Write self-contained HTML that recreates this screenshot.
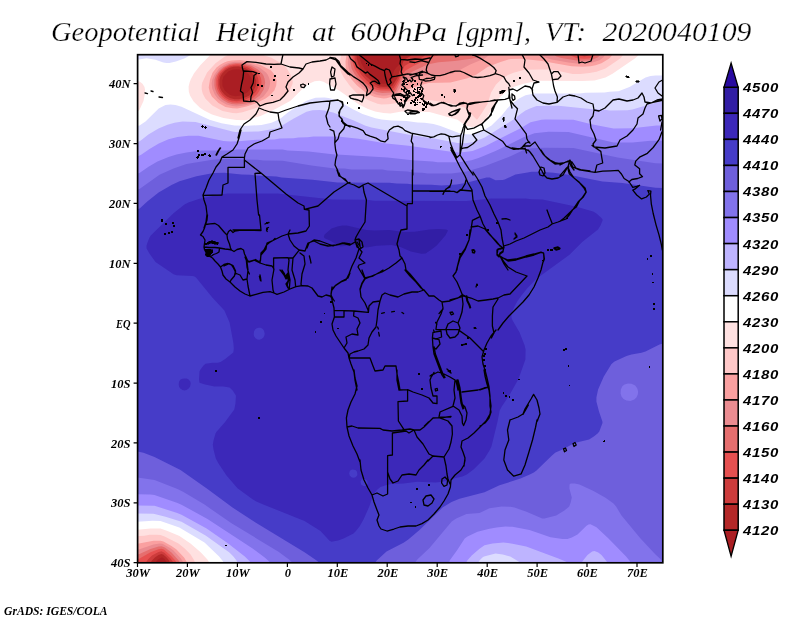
<!DOCTYPE html>
<html><head><meta charset="utf-8"><title>Geopotential Height at 600hPa</title>
<style>
html,body{margin:0;padding:0;background:#fff;}
body{width:800px;height:618px;overflow:hidden;font-family:"Liberation Sans",sans-serif;}
svg{display:block}
.t{font-family:"Liberation Serif",serif;font-style:italic;font-size:27px;fill:#000;stroke:#fff;stroke-width:0.25px}
.ax{font-family:"Liberation Serif",serif;font-style:italic;font-weight:bold;font-size:12.5px;fill:#000}
.cb{font-family:"Liberation Sans",sans-serif;font-style:italic;font-weight:bold;font-size:13.2px;fill:#000;letter-spacing:0.6px}
.gr{font-family:"Liberation Serif",serif;font-style:italic;font-weight:bold;font-size:12.3px;fill:#000}
.coast{fill:none;stroke:#000;stroke-width:1.3;stroke-linejoin:round;stroke-linecap:round}
</style></head><body>
<svg width="800" height="618" viewBox="0 0 800 618">
<rect width="800" height="618" fill="#fff"/>
<defs><clipPath id="fr"><rect x="137.6" y="54.7" width="525.1999999999999" height="508.09999999999997"/></clipPath></defs>

<g style="filter:grayscale(1)">
<text class="t" x="51" y="41" textLength="149" lengthAdjust="spacingAndGlyphs">Geopotential</text>
<text class="t" x="216" y="41" textLength="78" lengthAdjust="spacingAndGlyphs">Height</text>
<text class="t" x="312" y="41" textLength="23" lengthAdjust="spacingAndGlyphs">at</text>
<text class="t" x="350.5" y="41" textLength="96.5" lengthAdjust="spacingAndGlyphs">600hPa</text>
<text class="t" x="455" y="41" textLength="76" lengthAdjust="spacingAndGlyphs">[gpm],</text>
<text class="t" x="545" y="41" textLength="41" lengthAdjust="spacingAndGlyphs">VT:</text>
<text class="t" x="602.5" y="41" textLength="149" lengthAdjust="spacingAndGlyphs">2020040109</text>
</g>
<g clip-path="url(#fr)">
<rect x="130" y="50" width="540" height="520" fill="#aa1e23"/>
<path fill="#b42828" d="M138.5,54.5 359.3,54.5 359.5,57.7 361.5,63.5 364.5,69.1 367.5,72.8 372.5,77.9 377,81.5 381.2,83.5 383.5,83.7 386.6,83.5 389.5,82.6 392.8,78.5 393.3,77.5 393.1,73.5 394.1,70.5 396.3,67.5 398.6,65.5 399.5,63.7 400.4,54.5 663.5,54.5 663.5,563.5 166.6,563.5 166.2,561.5 164.5,558.9 162.5,557.6 161.5,557.5 158,559.5 155.5,562.5 155.5,563.5 137.5,563.5 137.5,54.5ZM233,69.5 228.3,71.5 223.5,76.5 222.3,80.5 222.5,86 224.7,90.5 229.4,94.5 231.8,95.5 235.5,96.2 241.5,95.5 247.3,92.5 250.5,88.8 252.2,83.5 251.5,78.5 248.5,73.9 243.7,70.5 238.5,69.2Z"/>
<path fill="#cd3c3c" d="M138.5,54.5 356.5,54.5 356.7,58.5 358.1,63.5 360.9,69.5 365.5,75.8 375.5,84.6 379.5,86.5 383.5,86.8 390.5,86.5 392.5,85.7 398.2,76.5 399.2,71.5 400.9,68.5 403.5,61.1 405.5,59.1 411.2,55.5 411.2,54.5 663.5,54.5 663.5,563.5 170,563.5 169.1,560.5 166.6,557.5 163.5,554.7 161.5,554.1 158.5,555.1 154.9,557.5 151.5,561.1 150.9,563.5 137.5,563.5 137.5,54.5ZM230.5,67.5 228,68.5 225.1,70.5 222.2,73.5 220.4,76.5 219.5,79.7 219.4,84.5 220.3,88.5 221.9,91.5 224.5,94.6 227.5,96.8 230.5,98.2 234.5,99.2 238.5,99.3 242.4,98.5 248.5,95.9 251.5,93.6 253.2,91.5 256,85.5 256.2,80.5 254.1,75.5 250.8,71.5 245.5,68.2 238.5,66.6 233.5,66.8Z"/>
<path fill="#e65050" d="M138.5,54.5 354.5,54.5 354.7,60.5 357.4,68.5 361.5,74.9 366.5,80.4 372.8,85.5 377.5,88 380.5,88.6 391.5,88.8 393.5,87.9 398,80.5 404.5,66.1 412.1,61.5 422.1,57.5 424.9,55.5 424.9,54.5 580.2,54.5 580.2,55.5 584.5,56.6 588.4,55.5 588.4,54.5 663.5,54.5 663.5,563.5 173,563.5 172.7,561.5 170.5,558.5 164.5,552.8 161.5,551.3 158.5,552.1 152,555.5 147.9,559.5 146.6,561.5 146.2,563.5 137.5,563.5 137.5,54.5ZM233.7,65.5 229.4,66.5 225.5,68.4 220.3,73.5 218.7,76.5 217.8,80.5 217.9,85.5 218.6,88.5 220,91.5 222.5,94.9 225.5,97.7 228.5,99.4 231.5,100.4 236.5,101.2 244.5,100 251.5,96.4 256,91.5 257.6,88.5 258.5,85.5 258.6,81.5 258.2,78.5 256.9,75.5 254.8,72.5 251.5,69.7 247.9,67.5 241.5,65.6Z"/>
<path fill="#e66e6e" d="M138.5,54.5 352.5,54.5 352.7,62.5 354.9,69.5 360.2,77.5 365,82.5 370.5,86.8 375.5,89.4 380.5,90.5 391.5,90.8 393.5,90.6 394.5,89.8 399.1,81.5 401.5,75.9 405.5,70.6 412.5,66.4 424.4,60.5 435.5,56 437.9,55.5 437.9,54.5 570.5,54.5 570.5,55.5 576.5,58.1 583.5,58.7 588.5,58.6 590.5,58.1 595.1,55.5 595.1,54.5 663.5,54.5 663.5,563.5 176.4,563.5 176.4,562.5 175.3,560.5 170.7,555.5 163.9,549.5 161.5,548.7 158.5,549.2 150.5,552.2 140.5,558.1 138.5,559.1 137.5,559.1 137.5,54.5ZM233,64.5 229.5,65.3 224.7,67.5 220.5,71.2 218.6,73.5 217.1,76.5 216.3,79.5 216.3,85.5 217.2,89.5 219.2,93.5 221.7,96.5 224.5,99 228.5,101.3 232.5,102.4 237.5,102.8 242.5,102.3 247.5,100.9 253.5,97.5 256.9,94.5 259,91.5 260.5,88.5 261.4,84.5 261.4,80.5 260.7,77.5 259.1,74.5 256.5,71.3 250.5,67.1 243.5,64.7 237.5,64.1Z"/>
<path fill="#eb8c91" d="M138.5,54.5 350.5,54.5 350.4,62.5 351.6,68.5 354.2,73.5 357.7,78.5 363.5,84.5 370.5,89.8 377.5,92.3 382.5,93.1 394.5,92.3 396.2,90.5 401.5,79.9 403.5,77 412.7,71.5 427.3,64.5 438.5,62.3 454.5,61 471.5,58.7 478.5,57.2 480.8,55.5 480.8,54.5 554.8,54.5 554.8,55.5 556.5,56.5 561.5,58.1 576.5,60.5 582.5,60.8 591.5,60.1 597.6,57.5 599.8,55.5 599.8,54.5 663.5,54.5 663.5,563.5 179.7,563.5 179.7,562.5 178.5,560.2 171.5,552.5 164.9,547.5 161.5,546.2 158.5,546.6 150.5,548.9 139.5,554 137.5,554.4 137.5,54.5ZM232.6,63.5 229.5,64.1 223.5,67 219.5,70.4 215.9,75.5 214.5,79.5 214.4,85.5 214.9,88.5 216.9,93.5 219.5,96.9 222.5,99.8 227.5,102.8 231.5,104 236.5,104.6 242.5,104.1 247.5,102.9 253.1,100.5 259.8,95.5 263.7,89.5 265.2,82.5 264.5,78.5 263.4,75.5 262,73.5 257.9,69.5 251.5,65.8 244.5,63.8 239.5,63.1 235.5,63Z"/>
<path fill="#faa0a0" d="M138.5,54.5 348.7,54.5 347.8,62.5 348.7,68.5 350.5,72.5 354.5,78.8 362,86.5 368.5,91.5 376.5,94.8 382.5,95.7 386.5,95.4 396,93.5 397.7,91.5 403.5,82.5 412,78.5 416.5,77 423.5,75.6 437.5,75.1 452.5,73.7 470.2,64.5 484.5,58.5 488.7,55.5 488.7,54.5 541.3,54.5 541.3,55.5 545,57.5 551.5,59.4 568.5,62.4 576.5,63.4 582.5,63.6 587.5,63.4 592.5,62.5 599.5,60.2 603.2,57.5 604.7,55.5 604.7,54.5 663.5,54.5 663.5,563.5 183.1,563.5 182.7,561.5 180.9,558.5 173.5,550.6 170.5,548.2 162.5,543.7 159.5,543.6 153.5,544.6 139.5,549.2 137.5,549.5 137.5,54.5ZM231,62.5 228.5,63 224.5,64.8 218.9,68.5 214.6,74.5 212.3,79.5 211.7,83.5 212.2,88.5 214.7,94.5 217.7,98.5 221.2,101.5 226.5,104.5 232.5,106 236.5,106.4 245.5,105.2 249.5,104 255.6,101.5 263.5,96.5 268.1,90.5 269.3,87.5 270.1,83.5 270.1,81.5 269,77.5 267.6,74.5 266,72.5 259.5,67.5 250.5,63.9 239.5,61.7 234.5,61.7Z"/>
<path fill="#ffc8c8" d="M138.5,54.5 346.6,54.5 345.5,61.5 345.8,68.5 346.8,71.5 351.6,79.5 357,85.5 366.5,93.3 374.5,97.1 383.5,98.5 386.5,98.2 393.5,96.2 396.5,96.4 398,95.5 400.5,92.5 403.5,90.8 418.5,85.8 428.5,83.1 450.5,82.4 467.5,78.3 476.5,74.4 487.5,67 500.5,62.1 510.5,58.9 520.5,58.7 540.5,60.8 571.5,66.3 582.5,66.8 590.5,66.2 595.5,65.2 601.5,63.3 609.3,58.5 611.9,55.5 611.9,54.5 663.5,54.5 663.5,563.5 186.8,563.5 186.5,561.5 184.1,557.5 176.5,549.5 171.5,545.9 163.5,541.5 160.5,540.7 153.5,540.7 137.5,543.8 137.5,54.5ZM231.6,60.5 227.5,61.3 224.3,62.5 220.5,64.5 216.5,67.5 212.5,72.8 210,79.5 208.7,87.5 209.9,92.5 211.8,96.5 218.5,103 225.5,106.9 232.5,108.3 237.5,108.4 246.5,106.6 255.5,103.4 265.6,98.5 269.7,95.5 274.3,90.5 276.2,85.5 276.7,80.5 273.6,73.5 271.1,70.5 260.5,65 247.5,61.1 239.5,59.9Z"/>
<path fill="#ffe1e1" d="M138.5,54.5 227.3,54.5 227.3,55.5 224.5,56.8 215.5,63.3 207.1,72.5 202.3,82.5 201.7,85.5 201.7,89.5 202.7,93.5 205.3,98.5 212.3,105.5 222.5,110.9 232.5,113.1 236.5,113.3 242.5,112.2 276.5,101.5 284.5,96.7 289.5,90.7 292.5,83.9 292.8,81.5 290.5,74.5 286.5,67.9 284.5,65.5 282.5,64.1 271.5,57.8 264.2,55.5 264.2,54.5 341.2,54.5 339.9,61.5 340.1,69.5 341.1,72.5 343.8,77.5 349.6,85.5 356.5,92.9 360.5,95.9 368.5,100.3 377.5,103.8 381.5,104.4 388.5,104.3 408.5,101.4 421.5,100.2 431.5,100.3 450.5,103.2 464.5,107.6 468,110.5 476.5,119.6 477.5,119.2 481.5,113.6 487.5,104 491.1,92.5 496,84.5 502.5,78.2 508.5,74.7 513.5,72.8 524.5,69.7 540.5,69.4 548.5,69.6 557.5,70.7 572.5,74.1 580.5,74.1 589.5,73.1 596.5,71.8 605.5,68.6 620.2,58.5 622.7,55.5 622.7,54.5 663.5,54.5 663.5,563.5 195.2,563.5 194.3,560.5 190.6,554.5 184.7,548.5 178.5,543.5 164.6,536.5 160.5,535 156.5,534.7 149.5,534.8 144.5,535.7 137.5,536.1 137.5,54.5Z"/>
<path fill="#ffffff" d="M138.5,54.5 209.8,54.5 209.8,55.5 200.5,65 193.9,73.5 190.7,79.5 189.6,82.5 188.6,86.5 188.8,91.5 190,95.5 193.6,101.5 199.7,107.5 204.1,110.5 212,114.5 223.5,118.1 236.5,120.1 245.5,120.3 260.5,115.9 275.5,109.1 290.5,100.8 304.5,86.8 307.5,84.5 314.5,81.2 319.5,80.7 323.5,81.8 339.5,90.7 358.5,104.3 367.5,108.8 375.1,111.5 383.5,113.1 390.5,113.5 401.5,111.6 429.5,111.9 457.5,119.7 465.5,125.4 471.5,127 477.5,126.6 481.1,124.5 487.1,117.5 494.5,104.2 500.5,96.4 508.5,89.6 513.5,86.9 523.5,83.7 537.5,80.8 582.5,81 594.5,80.4 605.5,77.4 612.5,73.7 634.8,58.5 638.3,55.5 638.3,54.5 663.5,54.5 663.5,563.5 209,563.5 208.7,561.5 207.4,559.5 200.9,552.5 190.5,543.5 179.5,535.9 167.5,531 160.5,528.6 150.5,528.4 137.5,529.7 137.5,111 138.5,111 139.5,109.7 143.5,101 144.8,94.5 145,89.5 144.5,86.9 142.5,83.8 139.5,81.5 137.5,81.1 137.5,54.5Z"/>
<path fill="#dcdcff" d="M138.5,54.5 189.8,54.5 189.8,55.5 184.3,58.5 175.8,61.5 169.5,63 166.5,63.1 163.3,62.5 155.5,59.7 146.5,58.3 137.5,59.7 137.5,54.5ZM655.5,75.5 663.5,75.4 663.5,563.5 223.6,563.5 223.1,561.5 219.1,556.5 204.5,542.5 179.3,527.5 160.5,521 152.5,520.7 137.5,521.8 137.5,125.9 139.5,125.5 145.5,121.6 158.7,108.5 165.5,105.1 170.5,104.5 175.5,104.9 181.5,106.8 209.5,119.7 221.5,123.3 234.5,125.5 247.5,125.8 261.5,125 271.5,122.8 276.5,120.6 280.5,118.4 288.5,112.1 306.5,100.7 315.5,97.7 324.5,97.6 328.5,97.9 334.5,99.5 341,102.5 352.5,109.1 362.5,114.1 375.5,118.3 381.5,119.5 391.5,120.5 406.5,120.9 417.5,122.4 424.5,122.7 433.5,123.9 440.5,126 459.5,133.3 464.5,134.3 472.5,134.5 482.5,130.9 491.5,125.5 501.7,115.5 507.5,108.2 512.2,103.5 519.1,98.5 525.5,95.3 534.5,93.6 579.5,93.5 585.5,92.7 604.5,92.5 609.5,91.7 618.5,91.2 629.5,87.1 645.5,77.4 650.5,75.9Z"/>
<path fill="#beb4ff" d="M659.5,101.4 663.5,100.9 663.5,563.5 519.9,563.5 519.9,562.5 518.6,561.5 510.2,556.5 502.8,554.5 495.5,553.6 484,556.5 482.4,557.5 479.5,560.5 478.2,562.5 478.2,563.5 237.6,563.5 237.6,562.5 236.5,560.5 233.4,556.5 229.4,552.5 205.6,535.5 181.5,521.8 165.5,516.7 153.5,513.7 137.5,513.5 137.5,141.8 138.5,141.8 140.8,140.5 148.4,134.5 158.5,128.5 167.5,124.8 174.5,122.7 182.5,121.6 195.5,122 232.5,131.6 235.5,131.9 258.5,131.5 277.5,128.3 293.8,118.5 306.5,111.8 312.5,110.3 319.5,110.1 324.5,110.4 333.1,112.5 353.8,120.5 365.5,125.8 371.5,127.4 411.5,135.2 435.5,138.7 457.5,143.1 465.5,143.3 473.5,141.9 484.8,137.5 513.5,119.6 520.5,114 525.5,110.6 530.5,108.2 536.5,106 558.5,105.7 592.5,109.3 603.5,109.6 609.5,110.4 627.5,110.3 632.4,109.5Z"/>
<path fill="#a08cff" d="M545.5,119.5 573.5,119.8 591.5,124.3 613.5,128.5 632.5,128.2 656.5,125.5 663.5,125.4 663.5,563.5 607.2,563.5 606.7,561.5 601.5,555 598.3,552.5 594.5,550.9 592.1,551.5 587.5,554.9 582.3,561.5 581.9,563.5 567.9,563.5 567.9,562.5 558.4,558.5 526.2,546.5 512.5,543.7 503.5,542.5 492.5,543.5 484.5,545.2 479.5,548.7 471.7,555.5 467.3,560.5 466.5,562.1 466.4,563.5 250.6,563.5 250.6,562.5 249.9,561.5 244.8,556.5 227.5,543 206.6,528.5 181.5,514.7 176.5,512.7 154.5,505.8 137.5,505.4 137.5,155.9 138.5,155.9 141.5,154.5 149.5,148.9 158.8,143.5 168.5,139.3 177.5,136.9 188.5,135.7 198.5,135.8 223.5,141.1 230.5,141.4 238.5,141.3 256.5,139.7 274.5,139.4 279.5,138.6 293.5,138.2 298.5,137.4 307.5,137.2 313.5,136.4 337.5,136.5 358.5,138.8 386.5,143.4 408.5,145.8 449.5,151.4 458.5,152.4 462.5,152.3 472.5,150.9 485.5,145.9 520.2,128.5 530.5,122.2 541.5,119.7Z"/>
<path fill="#8273eb" d="M541.5,132.5 548.5,131.7 568.5,131.9 613.5,142.6 632.5,142.5 650.5,140.8 663.5,140.7 663.5,563.5 630.7,563.5 630.1,561.5 626.1,556.5 608.5,538.4 596.5,527.3 590.5,524.3 588.5,524.5 586.5,525.8 577.5,534.5 571.8,537.5 567.5,539.1 562.5,539 550.5,537.2 529.5,530 512.5,526.7 505.5,526.6 496.5,527.6 489.5,528.7 477.5,531.8 467.5,536.5 464.7,538.5 457.6,549.5 449.7,560.5 448.8,563.5 270,563.5 270,562.5 269.2,561.5 264.7,557.5 252.6,548.5 207.5,519 181.5,504.7 177.5,502.9 154.5,494.9 150.5,494.5 137.5,494.3 137.5,173.5 139.5,173 148.5,166.8 157.5,161.5 168.5,156.9 176.5,154.6 186.5,152.6 201.5,150.5 228.5,150.4 236.5,149.6 282.5,149.6 287.5,150.4 308.5,151.6 332.5,154.3 387.5,157.5 412.5,160.3 432.5,161.6 437.5,162.3 458.5,162.3 471.5,160.2 478.5,158 495.5,151 523.5,137.3 534.5,133.2Z"/>
<path fill="#6e5fdc" d="M531.5,148.3 544.5,147.8 573.5,148.1 617.5,157.5 655.5,163.3 663.5,163.5 663.5,561 662.5,561 655.5,554.5 640.5,538.4 621.5,515.6 616.1,506.5 613.5,503.6 605.5,497.8 593.5,491.1 579.5,484.6 574.7,483.5 570.7,483.5 569.5,484.5 569.4,488.5 571.8,497.5 570.7,502.5 569.2,506.5 564.4,510.5 556.2,515.5 544.5,518.4 542.2,518.5 526.5,511.7 514.5,507.6 510.5,506.7 501.5,506.6 489.5,508.2 479.5,513 466.5,514.1 456.2,518.5 451.7,521.5 429.5,548.1 417.3,559.5 415.1,562.5 415.1,563.5 292.3,563.5 292.3,562.5 289,559.5 278.5,551.7 231.5,523.3 204.5,504.6 183.5,492 177.5,488.9 154.5,479.9 137.5,477.6 137.5,189.6 139.5,189 159.5,174.7 173.5,168.5 186.5,164 212.5,159.8 223.5,158.9 235.5,158.8 242.5,159.6 257.5,159.8 263.5,160.6 282.5,160.8 311.5,165.4 334.5,168.4 344.5,168.6 351.5,169.4 382.5,169.6 387.5,170.4 407.5,171.6 412.5,172.4 422.5,172.7 427.5,173.4 451.5,173.4 466.5,171.4 484.5,166.3 510.5,156.2 522.6,150.5ZM628,383.5 624.6,384.5 622.5,386.1 620.8,389.5 620.6,393.5 621.5,396.6 623.5,399 626.5,400.6 630.5,400.9 634.3,399.5 636.4,397.5 637.8,394.5 638.1,391.5 637.3,388.5 635.2,385.5 631.5,383.7Z"/>
<path fill="#463cc8" d="M527.5,172.4 531.5,171.8 540.5,171.7 553.5,172.8 568.5,174.8 602.5,181.4 622.5,183.1 655.5,187.8 663.5,188 663.5,343.4 659.5,344.5 645.5,351.6 641.5,352.7 631.5,354.4 626.5,356 614.5,361.5 611.5,363.9 603.8,376.5 598.1,389.5 596.4,397.5 596.4,401.5 599,411.5 602.4,421.5 602.5,423.1 599.3,431.5 597.6,433.5 593.8,436.5 589.1,439.5 574.5,443 562.5,449.6 555.5,452.6 552.5,454.9 536.5,470.5 533.8,472.5 529.8,474.5 520.5,478.6 499.5,485.3 484.5,492.2 459.5,498.7 451.5,502 442.5,507.6 419.5,530.1 408.3,539.5 403.5,542.7 386.5,551.4 376.7,560.5 375.2,562.5 375.2,563.5 319,563.5 319,562.5 316.6,560.5 304.9,552.5 255.5,522.6 232.5,507.5 207.5,489 180.5,470 154.5,456.9 143.5,452.8 137.5,451.6 137.5,209.2 138.5,209.2 140.5,207.7 147.3,201.5 158.6,192.5 171.5,184.9 179.5,181.3 196.5,176.2 213.5,172.9 224.5,172.8 241.5,174.5 250.5,174.7 255.5,175.4 276.5,176.6 281.5,177.4 312.5,179.7 337.5,182.5 389.5,182.8 396.5,183.6 407.5,183.8 412.5,184.5 431.5,184.7 441.5,185.6 456.5,184.4 462.5,183.4 471.5,181.5 486.5,177.4 489.8,177.5 495.5,180.3 502.5,180.1 504.7,179.5 515.5,174.4Z"/>
<path fill="#3c28b9" d="M227.5,193.5 277.5,193.4 332.5,199.6 366.5,199.8 374.5,200.7 466.5,200.9 491.5,198.4 525.5,198.5 531.5,199.3 542.5,199.5 575.6,206.5 593.2,211.5 596.5,213.5 600.9,217.5 602.5,219.3 602.6,220.5 600.5,225.6 598,229.5 582.5,241.7 569.5,254.8 536.8,278.5 527.9,287.5 521.5,295.5 517.5,301.1 514.5,306.5 511.5,313.5 511.5,317.8 512.6,320.5 519.6,332.5 524.5,344.9 525.6,349.5 525.4,359.5 518.5,379 509.5,394.9 501.8,406.5 499.7,410.5 497.5,421.7 491.5,446.3 489.5,450.6 484.5,458.5 473.5,469.5 466.8,474.5 462.4,476.5 452.5,478.7 448.4,480.5 442.5,481.8 435.7,482.5 417.5,481.7 403.5,483.6 391.5,484 386.5,485 380.5,487.1 377.4,489.5 373.3,494.5 369.5,506.1 363.5,519.6 359.5,526.4 355.5,531.5 353.5,533.5 343.6,538.5 338.2,540.5 331.5,541.8 329.5,540.8 320.5,531 304.5,520.9 263.3,504.5 256.3,501.5 252.9,499.5 237.5,488.2 226.5,475.4 218.5,463.5 215.8,458.5 213.5,449.6 212.8,444.5 213.5,440.5 215.5,433.5 216.5,431.8 224.7,422.5 234.3,409.5 235.5,403.2 235.9,395.5 232.5,390.2 229.5,387.5 223.5,386.5 214.5,386.4 205.1,384.5 199.5,382.8 199,379.5 199.5,371.6 200.5,369.5 203.5,365.6 205.5,363.8 212.5,362.7 217.5,362.8 220.5,362 225.5,358.8 233.3,352.5 233.8,348.5 233.3,342.5 229.6,322.5 224.4,310.5 212.3,297.5 196,277.5 194.5,276.5 192.5,276.1 176.5,275.2 173.5,274.3 155.5,261.9 149.4,253.5 146.6,248.5 146.5,245.8 147.5,242.5 149.5,237.4 150.8,235.5 173.5,213.3 184.5,204.5 188.4,202.5 199.5,198.8 220.3,194.5ZM256.2,328.5 255.1,329.5 254,331.5 253.7,334.5 254.2,336.5 255.5,338.3 257.5,339.5 259.5,339.8 261.5,339.1 263.4,337.5 264.4,335.5 264.7,333.5 263.9,330.5 262.5,328.7 260.5,327.8 258.5,327.7ZM352.2,469.5 350.5,470.3 349.6,471.5 349.2,473.5 349.7,475.5 351.5,477.2 353.5,477.7 355.5,477.3 357.2,475.5 357.4,474.5 356.9,471.5 355.5,470ZM361.7,479.5 360.5,481.5 361.1,484.5 363.5,486.1 365.5,486 366.5,485.4 367.7,483.5 367.1,480.5 364.5,478.9ZM184.5,378.4 186.5,378.6 188.6,379.5 190.3,381.5 190.7,383.5 190.1,386.5 188.7,388.5 186.5,390 184.5,390.5 182.5,390.1 180.2,388.5 179,386.5 178.7,384.5 179.1,381.5 180.5,379.6 182.5,378.7Z"/>
<path fill="#321ea5" d="M342.5,225.5 346.5,225.6 366.5,229.9 374.5,230.4 389.5,230.1 403.5,232 414.5,231.8 429.5,229.5 438.5,228.9 446.1,229.5 448,230.5 445.4,235.5 436.7,245.5 431.5,249.6 425.6,253.5 421.5,253.7 410.8,251.5 400.5,247 391.5,245.1 376.5,245.7 366.5,247.5 364.5,247.3 358.5,245 355.5,244.4 340.5,246.5 338,245.5 330.5,240.8 325.1,238.5 324.1,237.5 323.9,236.5 324.6,234.5 331.5,228.5 337.5,226.5Z"/>
<path class="coast" d="M241.0,130.0 239.0,138.0 237.0,144.0 233.0,150.0 227.0,154.0 222.0,157.0 220.0,162.0 216.0,167.0 213.0,173.0 209.0,180.0 206.0,188.0 203.0,195.0 204.0,200.0 206.0,206.0 207.0,214.0 206.0,222.0 204.0,228.0M222.0,157.4 244.4,157.4 244.4,167.4 228.0,167.4 228.0,183.0 223.0,185.0 222.0,195.0 203.0,195.4M244.4,160.0 261.0,173.0 286.0,194.0 298.0,203.0 304.0,206.0 304.4,209.4 318.0,206.0 334.0,192.0 348.0,183.0 350.0,182.4M261.0,173.0 255.0,173.4 257.0,200.0 258.6,215.0M304.4,209.4 309.0,210.0 309.4,226.0 306.0,231.0 298.0,233.0 288.0,234.0M339.0,173.0 340.0,176.0 348.0,182.4M216.0,155.0 218.0,151.0 220.0,148.0M216.6,155.0 218.6,151.0 220.6,148.0M283.0,54.4 282.0,59.0 281.0,64.0 274.0,64.4 266.0,64.0 256.0,62.4 247.0,61.6 242.0,65.0 242.4,68.0 243.6,72.0 243.0,78.0 241.6,84.0 240.4,91.0 243.0,93.0 243.6,101.0 250.0,101.6 254.4,101.0 257.0,102.4 260.0,106.0 266.0,103.6 273.0,102.4 280.0,100.0 284.0,96.0 288.0,91.0 286.0,87.0 288.0,82.0 293.0,77.0 299.0,73.0 303.0,69.0 306.0,64.0 312.0,62.0 320.0,61.0 326.0,60.0 330.0,58.0 336.0,60.0 341.0,67.0 348.0,74.0 350.0,75.0M281.0,64.0 290.0,67.0 299.0,68.0 303.0,69.0M244.0,71.0 253.0,71.6 257.0,73.2 254.0,75.6 253.2,83.0 251.0,87.6 252.6,92.4 251.0,96.4 250.6,101.2M332.0,67.0 335.0,69.0 334.0,76.0 331.6,77.0 330.6,72.0 332.0,67.0M330.0,79.0 335.0,78.0 336.0,84.0 334.4,90.0 330.6,90.0 329.6,84.0 330.0,79.0M300.6,85.0 303.0,84.0 305.6,85.4 304.0,87.6 301.2,87.2 300.6,85.0M259.0,108.0 256.0,114.0 250.0,120.0 244.0,124.0 240.0,130.0 238.0,138.0M259.0,108.0 264.0,110.0 270.0,112.0 278.0,113.0 286.0,110.0 298.0,106.0 310.0,103.0 322.0,101.6 330.0,101.0 338.0,100.0 342.0,102.4 343.0,106.0 340.0,110.0 339.0,116.0 342.0,119.0 343.0,122.0 348.0,126.0 350.0,127.0M278.0,113.0 279.0,120.0 282.0,128.0 276.0,130.0 270.0,132.0 269.0,137.0 262.0,141.0 254.0,144.0 248.0,148.0 245.0,154.0 244.4,158.0M330.0,101.0 329.0,108.0 326.0,116.0 328.0,124.0 330.0,127.0M330.0,57.5 335.0,58.1 338.8,61.2 340.6,65.6 345.0,69.4 348.8,73.1 353.8,76.9 358.8,80.0 363.1,83.1 366.2,86.9 367.5,90.0 366.2,95.6 370.0,93.1 373.1,88.8 372.5,85.6 370.2,83.1 372.5,81.5 375.0,81.2 377.5,83.1 379.8,83.8 378.1,80.6 374.4,77.5 370.0,74.4 367.5,71.9 365.6,73.1 361.2,70.0 356.9,66.9 355.0,62.5 350.6,58.8 348.8,55.0M349.4,96.2 353.1,94.8 358.8,95.0 363.8,94.8 363.5,98.1 361.9,101.9 358.1,100.0 353.8,99.0 350.6,98.1 349.4,96.2M359.4,55.0 362.5,57.5 366.2,60.6 370.0,63.8 375.0,66.2 380.0,68.8 384.4,70.6 385.0,75.0 386.2,80.0 387.5,84.4 390.0,87.5 391.9,90.6 393.8,93.1 392.5,95.6 394.4,96.2 396.2,100.0 398.1,103.8 400.0,105.0 401.2,102.5 403.1,105.6 405.0,103.8 404.4,100.6 406.9,99.4 405.0,96.9 408.1,98.1 410.0,96.2 406.9,93.8 403.8,91.2 405.0,87.5 401.9,85.0 403.8,82.5 405.0,79.4 403.1,76.9 406.2,78.1 408.1,81.2 410.0,80.0 411.2,81.9 413.1,80.0 411.2,77.5 416.2,75.6 422.5,75.0M392.5,95.6 398.1,95.0 401.2,95.6 405.0,96.9M384.4,70.6 386.2,68.8 389.4,70.0 390.6,73.1 391.9,76.9 390.0,79.4 391.2,82.5 388.8,85.0 387.8,84.8M399.4,55.0 400.6,59.4 400.0,63.8 401.9,67.5 401.2,71.9 402.5,75.0M391.9,76.9 396.2,76.2 402.5,75.0 407.5,73.8 412.5,74.4 417.5,73.1 422.5,71.2M400.6,59.4 407.5,60.0 415.0,59.0 422.5,59.5 430.0,57.8M405.6,88.8 410.0,92.5 412.5,95.6M405.0,111.2 407.5,110.0 412.5,110.6 417.5,111.2 419.4,112.5 416.2,113.1 411.2,113.1 406.9,113.1 405.0,111.2M433.1,55.0 430.6,58.8 428.8,62.5 426.9,66.2 426.2,70.0 427.5,73.1 431.2,75.0 435.0,75.6 440.0,75.6 445.0,74.4 450.0,72.5 455.0,71.2 460.0,71.2 463.8,72.5 467.5,74.4 472.5,76.9 477.5,77.5 483.8,76.9 490.0,75.6 495.0,73.8 496.2,70.6 493.8,67.5 490.0,64.4 485.0,61.2 480.0,58.1 475.0,55.6 472.5,55.0M455.0,55.0 455.6,56.9 458.1,56.2 458.8,55.0M427.5,73.1 423.8,71.9 420.0,73.1 418.8,75.6 419.4,79.4M410.0,61.9 415.0,62.5 421.2,60.6 428.8,62.5M410.0,75.0 415.0,73.8 418.8,75.6M419.4,79.4 422.5,80.0 426.2,78.5 431.2,78.1 435.0,76.9 434.4,79.4 430.0,80.6 425.6,81.2 422.5,80.0M421.9,81.9 420.6,85.6 423.1,88.8 421.2,92.5 423.8,95.6 422.5,99.4 425.6,101.9 428.8,103.8 431.9,105.6 435.6,105.0 439.4,103.1 443.8,102.5 447.5,104.4 452.5,105.6 456.2,106.0 460.0,103.1 463.8,102.5 466.9,103.8 468.1,104.4 466.9,108.8 468.5,112.5 469.4,115.0 468.1,118.1 465.6,121.9 463.8,125.0M468.1,104.4 470.0,104.4 475.0,103.1 482.5,101.9 490.0,101.2 497.5,100.0 505.0,99.4 510.0,97.5M448.8,113.8 451.9,111.9 456.2,110.0 460.0,108.8 458.1,111.2 455.0,113.8 451.9,115.6 449.4,115.0 448.8,113.8M496.2,73.8 500.0,75.0 503.8,76.9 506.2,81.2 508.8,83.8 510.0,86.2M508.8,87.5 509.4,92.5 508.8,97.5 510.0,99.4M497.5,100.4 491.9,108.8 491.2,115.0 485.0,120.6 481.2,125.0M410.0,111.9 415.0,111.2 418.8,112.5 415.0,113.8 410.0,113.8M337.5,100.0 342.5,101.9 343.1,105.0 340.6,108.8 338.8,112.5 339.4,116.2 341.9,119.4 342.5,122.5 345.0,125.0 351.2,126.2 357.5,128.1 363.1,130.6 365.6,134.4 370.0,136.2 376.2,138.1 381.2,141.2 385.0,141.9 388.1,138.8 387.5,133.8 389.4,130.0 393.8,126.9 398.1,126.2 402.5,128.1 405.0,130.6 411.2,133.1 417.5,134.4 423.8,135.6 430.0,136.9M345.0,125.0 343.8,128.8 339.4,133.8 338.1,138.8 335.0,142.5M330.0,129.4 333.8,131.2 335.0,137.5 334.8,143.1 335.6,150.0 336.9,155.0 335.6,160.0 335.0,165.0 337.5,170.0 338.8,175.0M412.5,133.8 411.2,141.2 412.8,143.8 412.8,175.0M430.0,103.1 433.8,105.6 437.5,104.4 441.2,102.5 446.2,103.8 451.2,106.2 456.2,105.6 461.2,103.8 466.2,103.1 467.5,104.4 466.9,108.8 468.1,112.5 469.4,115.6 467.5,120.0 465.0,123.8 463.1,128.1 461.9,132.5 460.6,135.6 456.9,136.2 452.5,136.9 448.8,136.2 445.0,134.4 441.2,133.8 437.5,135.0 433.8,136.9 430.0,137.5M448.8,113.8 451.9,111.9 456.2,110.6 460.0,109.0 458.1,111.9 455.0,114.4 451.2,115.6 448.8,113.8M467.5,104.4 470.0,103.1 475.0,102.5 482.5,101.9 490.0,101.2 495.0,100.0M468.1,112.5 470.6,113.1 470.0,116.2 468.1,119.4 467.5,120.0M498.1,100.0 495.0,105.0 492.5,111.2 488.8,117.5 481.9,123.8 473.8,128.1 467.5,129.4 465.2,125.6M481.9,123.8 483.8,130.0 472.5,134.4 476.9,140.0 473.1,143.8 467.5,147.5 463.1,148.1 461.2,149.0M483.8,130.0 492.5,135.0 502.5,141.2 506.2,146.2 513.8,149.4M510.0,100.0 513.8,105.0 517.5,108.8 516.2,113.8 515.0,118.8 518.8,123.8 522.5,128.8 526.2,133.8 526.9,138.8 528.8,142.5 530.0,143.1M465.2,125.0 464.2,131.2 463.2,137.5 462.4,143.8 461.2,149.0 460.0,155.0M460.6,135.6 460.0,155.0M448.8,136.2 450.6,143.8 453.1,150.0 456.9,157.5 459.8,155.0 461.2,149.0M450.6,147.5 453.1,152.5 456.2,158.8M460.0,155.0 462.5,158.8 465.6,163.8 468.8,168.8 472.5,173.8 473.1,175.0M522.0,54.4 525.0,60.0 524.0,67.0 529.0,73.0 533.0,80.0 539.0,82.0 534.0,83.0 532.0,89.0 533.0,95.0 537.0,100.0 543.0,103.0 549.0,104.0 557.0,102.4 557.4,97.0 555.0,91.0 553.6,86.0 552.6,80.0 551.4,74.0 550.0,70.0 548.0,64.0 544.0,59.0 540.0,55.0M551.4,74.0 554.0,71.6 558.0,71.6 561.0,76.0 558.0,79.0 553.0,79.6M578.0,54.4 579.0,63.0 582.0,62.0 585.0,63.0 591.0,61.0 593.0,54.4M557.0,102.4 563.0,97.0 569.0,95.0 575.0,96.0 581.0,98.0 587.0,102.0 593.0,104.0 594.0,110.0 599.0,111.0 605.0,108.0 609.0,104.0 613.0,100.0 619.0,99.0 627.0,101.0 633.0,100.0 638.0,98.0 642.0,93.0 644.0,97.0 645.0,102.0 651.0,103.0 657.0,100.0 662.6,99.0M594.0,110.0 593.0,116.0 590.0,120.0 591.0,128.0 594.0,134.0 596.0,140.0 593.0,144.0 594.0,147.0 605.0,148.0 617.0,146.0 620.0,140.0 627.0,136.0 633.0,130.0 637.0,124.0 638.0,118.0 643.0,114.0 645.0,108.0 647.0,104.0 653.0,102.4 662.6,100.4M662.6,80.0 659.0,82.0 655.0,88.0 658.0,93.0 662.0,96.0M658.6,116.0 661.4,115.4 662.0,119.0 660.0,121.0 658.6,116.0M662.0,122.0 660.6,130.0M512.0,94.0 514.6,96.0 515.0,99.0 513.0,100.4 512.0,98.0 512.0,94.0M509.0,90.0 513.0,89.0 517.0,91.0 525.0,86.0 530.0,87.0 532.6,90.0M509.0,90.0 510.0,100.0 512.0,108.0M512.0,148.0 519.0,149.0 525.0,146.0 530.0,146.0 535.0,142.0 539.0,148.0 543.0,154.0 548.0,159.0 555.0,164.0 563.0,163.0 569.0,161.0 571.0,166.0 574.0,170.0M525.0,148.0 526.6,153.0M451.0,150.0 455.0,157.0 460.0,167.0 465.0,176.0 468.0,183.0 472.0,190.0 473.0,200.0 477.0,210.0 480.0,216.0 483.0,224.0 487.0,231.0 492.0,237.0 498.0,244.0 503.0,248.0M473.0,172.0 477.0,178.0 482.0,187.0 485.0,196.0 490.0,205.0 494.0,214.0 498.0,222.0 501.0,230.0 502.0,238.0 503.6,246.0 510.0,244.0 516.0,241.0 524.0,238.0 532.0,234.0 540.0,230.0 548.0,227.0 552.0,224.0 558.0,222.0 566.0,219.0 570.0,214.0 574.0,208.0 578.0,202.0 582.0,198.0 586.0,192.0 584.0,188.0 579.0,182.0 574.0,178.0 570.0,172.0 568.0,167.0 566.0,170.0 563.0,175.0 558.0,178.0 552.0,179.0 547.0,178.0 544.0,175.0 542.0,171.0 539.0,166.0 536.0,161.0 533.0,156.0 530.0,152.0 528.0,150.0M430.0,191.4 454.0,191.4 457.0,192.6 460.0,190.0 472.0,191.0M443.0,194.4 444.4,191.0 447.0,188.4 450.0,186.0 451.2,183.0 451.6,180.0M457.0,192.6 462.0,189.0 465.0,184.0 466.0,180.0M480.0,216.6 472.4,220.4 471.0,230.0 469.0,240.0 465.0,250.0 460.0,258.0 457.6,266.0 457.0,270.0M471.0,227.0 478.0,226.0 485.0,229.0 490.0,235.0 496.0,241.0 500.0,246.0M498.0,249.0 501.0,248.0 504.0,247.0 503.0,251.0 500.0,253.0 499.0,256.0 497.0,254.0 498.0,249.0M500.0,256.0 508.0,261.0 516.0,260.0 526.0,257.0 534.0,255.0 541.0,252.4 543.6,253.0 544.4,259.0 543.2,262.0M500.0,256.0 504.0,264.0 508.0,270.0M539.0,172.0 541.0,167.0 544.0,168.0 545.0,173.0 543.0,176.0 540.0,175.0 539.0,172.0M568.0,167.0 569.0,163.0 570.0,160.0M541.0,150.0 545.0,156.0 550.0,160.0 556.0,163.0 562.0,164.0 568.0,161.0 572.0,162.0 576.0,168.0 582.0,170.0 590.0,171.0M547.0,210.0 549.6,217.0 552.0,223.0M502.0,219.0 506.0,218.6 510.0,220.0M515.0,233.0 517.0,236.0 514.0,239.0M554.0,248.0 558.0,247.0 560.0,248.4 557.0,249.6 554.0,248.0M472.0,250.0 474.0,249.6 474.8,252.0 473.0,253.0 472.0,250.0M560.0,165.0 565.8,162.0 570.7,161.1 572.6,166.9 579.4,169.8 587.2,171.2 595.0,172.3 602.7,171.2 610.5,170.8 618.3,170.4 621.2,173.7 624.1,178.5 628.9,181.5 632.8,187.3 636.7,186.3 639.6,185.3 634.8,189.2 632.8,190.2 636.7,195.0 641.6,198.9 646.4,197.0 649.3,194.1 647.8,190.6 650.9,191.2 650.5,195.0 651.3,203.8 653.2,213.5 656.1,225.1 659.0,234.9 661.4,244.6 662.3,250.0M560.0,175.6 565.8,168.8 568.7,165.9 568.2,169.8 569.3,173.7 574.6,178.5 580.4,183.4 585.2,188.3 586.2,192.1 583.3,197.0 579.4,200.9 576.5,206.7 571.7,210.6 567.8,214.5 563.9,218.3 560.0,221.3M595.0,172.3 596.9,165.0 602.7,163.0 601.7,157.2 600.8,151.4 595.0,147.5 592.0,145.5M661.9,131.9 659.0,139.7 653.2,147.5 647.4,153.3 639.6,157.2 635.7,161.1 634.8,165.0 639.6,168.8 639.6,173.7 642.5,176.6 637.7,178.5 631.8,179.5 628.9,182.0M337.0,170.0 339.0,176.0 345.0,179.0 348.0,183.0M348.0,183.0 354.0,185.0 359.0,187.6 363.0,185.0 368.0,183.0 407.0,206.0 407.4,203.6 412.4,203.6 412.4,170.0M412.4,191.0 450.0,191.0M443.0,194.0 446.0,189.0 450.0,187.0M363.0,185.6 364.0,192.0 366.4,200.0 365.6,212.0 365.0,222.0 360.0,230.0 356.0,237.0 355.0,240.0M355.0,240.0 359.0,239.0 362.0,242.0 363.0,247.0 360.0,249.0 357.0,247.0 355.0,240.0M357.0,242.0 361.0,248.0M359.0,240.0 360.0,246.0M356.0,243.0 359.0,248.4M407.0,206.0 407.0,229.0 401.0,230.0 399.0,236.0 397.0,244.0 399.0,250.0 400.0,256.0 402.0,258.0 396.0,263.0 389.0,268.0 382.0,272.0 374.0,275.0 365.0,279.0 361.0,272.0 358.0,267.0 359.0,265.0 365.0,263.0 359.0,258.0 362.0,252.0 359.0,248.4M402.0,258.0 405.0,264.0 406.0,270.0 410.0,274.0 415.0,280.0 420.0,286.0 423.0,290.0M365.0,279.0 362.0,284.0 360.0,290.0M355.0,242.0 350.0,245.0 342.0,243.0 333.0,246.0 328.0,244.0 320.0,241.0 314.0,240.0 309.0,243.0 307.0,248.0M359.0,249.0 356.0,258.0 352.0,266.0 349.0,274.0 346.0,280.0 341.0,282.0 335.0,286.0 332.0,290.0M223.0,275.0 226.0,279.0 230.0,282.0 235.0,287.0 240.0,291.0 245.0,294.0 250.0,296.0 256.0,294.4 263.0,292.4 270.0,291.6 274.0,293.0 277.0,294.4 284.0,292.0 290.0,289.0 296.0,286.6 302.0,285.6 308.0,286.0 312.0,288.0 315.0,292.0 318.0,296.0 322.0,297.0 326.0,295.0 330.0,296.0 333.0,299.0 334.4,301.0M224.0,266.0 229.0,263.6 233.0,265.6 235.6,271.0 234.4,276.0 231.0,280.0 230.0,282.0M235.0,273.0 240.0,275.0 243.0,280.0 247.0,279.0 248.0,286.0 250.0,296.0M245.0,257.0 247.0,262.0 248.0,270.0 247.0,279.0M247.0,262.0 254.0,260.0 260.0,263.0 266.0,265.0 272.0,266.0 274.0,269.0 272.0,280.0 273.0,290.0 274.0,293.0M260.0,263.0 261.0,255.0 266.0,249.0 267.0,243.0 274.0,240.0 282.0,236.0 288.0,234.0 290.0,240.0 294.0,246.0 299.0,250.0 305.0,251.0 308.0,243.0 314.0,241.0 320.0,244.0 328.0,246.0 336.0,245.0 344.0,243.0 350.0,244.0M288.0,234.0 290.0,230.0M273.6,269.0 273.6,258.0 288.0,257.6 289.0,260.0 288.0,270.0 290.0,280.0 289.4,288.0M289.0,258.0 293.0,258.0 299.0,250.4M293.0,258.0 292.0,270.0 295.0,280.0 295.6,286.0M300.0,253.0 304.0,256.0 305.0,264.0 302.0,274.0 301.0,284.0 301.4,285.6M280.0,270.0 283.0,273.0 285.0,277.0 288.0,273.0 289.0,280.0 286.0,284.0 288.0,288.0M281.0,271.0 284.0,275.0 286.0,279.0 288.4,276.0 288.0,282.0 286.8,286.0M282.0,270.0 284.4,273.6 285.6,278.0 287.2,274.4 288.4,281.0 287.2,285.0 288.4,288.4M260.0,275.0 260.6,278.0 261.0,281.0M259.4,276.4 260.4,280.4M309.4,256.0 310.4,260.0 311.0,263.0M350.0,273.0 348.0,278.0 342.0,281.0 336.0,285.0 332.0,289.0 331.0,295.0 333.0,299.0M233.0,230.0 260.0,230.0M332.0,287.0 331.0,294.0 332.0,300.0 334.0,308.0 334.4,317.0 332.0,324.0 333.0,330.0 336.0,336.0 340.0,342.0 344.0,348.0 348.0,353.0 349.0,358.0 351.0,364.0 354.0,372.0 355.0,380.0 357.0,390.0M362.0,270.0 365.0,278.0 362.0,283.0 360.0,289.0 361.0,297.0 365.0,303.0 368.0,310.0 368.4,312.4M365.0,278.0 373.0,276.0 380.0,272.0 383.0,270.0M368.4,312.4 369.0,306.0 373.0,302.0 380.0,301.0 382.0,295.0 385.0,293.0 390.0,295.0 398.0,297.0 404.0,294.0 412.0,292.0 418.0,292.0 424.0,290.0 429.0,296.0 434.0,296.0 439.0,300.0 442.0,302.0 450.0,301.0 458.0,298.0 462.0,295.0 464.4,295.6M405.0,270.0 410.0,276.0 416.0,282.0 421.0,288.0 424.0,290.0M442.0,302.0 443.0,308.0 441.0,314.0 437.0,322.0 436.0,329.0M439.0,313.6 441.2,311.0 443.0,309.0M462.0,295.0 463.0,304.0 462.0,312.0 460.0,318.0 458.0,323.0M436.0,329.6 458.0,329.6 470.0,338.0 483.0,351.0M448.0,324.0 453.0,321.0 458.0,323.0 460.0,328.0 458.0,334.0 455.0,337.0 450.0,338.0 447.0,334.0 446.0,329.0 448.0,324.0M450.0,312.4 452.4,312.0 453.6,314.0 451.2,314.8 450.0,312.4M433.0,332.4 441.0,331.0 441.6,337.0 436.0,339.0 432.4,338.0 433.0,332.4M432.4,338.0 439.0,339.6 440.0,344.0 436.0,349.0 433.0,347.0 432.4,338.0M433.0,347.0 434.0,354.0 437.0,362.0 440.0,370.0 442.0,375.0 444.0,378.0M434.2,347.0 435.4,354.0 438.4,362.0 441.4,370.0 443.2,374.4 445.0,377.4M433.6,330.0 434.4,332.4M435.6,322.4 436.8,324.4M430.0,376.0 432.4,374.4 434.0,374.0M447.0,369.0 449.2,371.0 451.0,373.0M456.0,381.0 457.2,386.0 458.0,390.0M457.0,380.6 458.4,386.0 459.2,390.0M335.0,310.6 344.0,310.6 344.0,317.0 335.0,317.0M344.0,310.6 354.0,311.0 368.0,312.4M354.0,311.0 353.6,316.0 358.0,318.0 360.0,323.0 357.0,329.0 358.0,335.0 352.0,334.0 346.0,337.0 347.0,343.0 344.0,348.0M380.0,301.0 378.0,310.0 377.0,320.0 376.0,327.0 372.0,332.0 369.0,338.0 368.0,345.0 364.0,349.0 358.0,351.0 354.0,352.0 350.0,354.0 349.0,358.0M349.0,358.0 370.0,358.0 373.0,366.0 375.0,371.0 383.0,370.0 385.0,366.0 396.0,366.0 397.0,374.0 399.0,384.0 400.0,390.0M378.6,332.4 379.4,336.0M377.6,327.0 378.4,329.0M381.6,313.4 384.4,312.6M391.6,311.8 394.4,311.4M402.0,312.4 403.6,313.6M470.0,230.0 469.0,240.0 465.0,249.0 460.0,256.0 458.0,264.0 456.0,272.0 453.0,276.0 457.0,282.0 460.0,289.0 462.0,294.0 464.0,296.0 458.0,298.0 450.0,300.0M464.0,296.0 471.0,298.0 478.0,301.0 486.0,300.0 493.0,299.0 498.0,298.0 504.0,295.0 510.0,294.0 527.0,276.0 516.0,272.0 508.0,267.0 504.0,262.0 501.0,257.0M497.0,250.0 500.0,249.0 503.6,248.0 503.0,252.0 500.0,254.0 499.0,257.0 497.0,255.0 497.0,250.0M501.0,257.0 508.0,260.0 516.0,259.0 526.0,256.0 534.0,254.0 541.0,252.0 543.6,253.0 544.0,259.0 543.0,262.0 541.0,270.0 538.0,278.0 534.0,287.0 529.0,295.0 523.0,302.0 516.0,309.0 509.0,316.0 503.0,323.0 498.0,330.0M498.0,299.0 493.0,307.0 492.4,316.0 492.4,326.0 494.0,333.0 491.4,338.0M466.0,296.0 467.0,301.0 469.0,305.0 470.0,308.0M466.8,296.0 467.8,301.0 469.8,305.0 470.6,307.6M554.0,248.4 558.0,247.6 559.6,249.0 556.0,250.0 554.0,248.4M473.0,250.0 475.0,251.0 474.4,253.0 472.4,252.4 473.0,250.0M477.0,284.0 476.0,287.0M474.0,328.0 476.0,328.4M462.0,345.0 466.0,344.0M515.0,234.0 517.0,237.0 514.0,239.0M354.0,370.0 355.0,378.0 357.0,386.0 355.0,394.0 351.0,402.0 348.0,410.0 346.4,418.0 347.0,427.0 349.0,436.0 353.0,446.0 357.0,454.0 360.0,462.0M347.0,427.0 352.0,426.0 358.0,428.0 380.0,428.4 383.0,430.0 392.0,431.0 402.0,430.0 410.0,429.0 414.0,430.0M397.0,370.0 397.0,380.0 399.0,390.0 407.6,389.6 407.6,401.0 398.0,401.6 398.4,421.0 404.0,429.6M407.6,389.6 413.0,392.0 422.0,395.0 429.0,398.0 433.0,403.0 437.0,403.6 437.0,396.0 433.0,396.0 431.0,388.0 430.0,380.0 432.0,375.0 438.0,372.0 444.0,374.0 450.0,377.0 455.0,380.0M455.0,380.0 454.0,390.0 455.0,398.0 453.0,406.0 459.0,410.0 462.0,416.0 462.4,423.0 463.6,425.6 466.0,420.0 467.0,413.0 465.0,407.0 462.0,404.0M457.0,380.0 459.0,388.0 460.0,396.0 461.0,403.0 463.0,409.0M458.0,380.0 460.0,388.0 461.0,396.0 462.0,403.0 463.8,408.4M453.0,406.4 440.0,412.0 439.0,417.0 440.0,418.0 451.0,416.4M440.4,417.2 450.6,417.2M414.0,430.0 420.0,430.0 424.0,427.0 428.0,423.0 433.0,418.0 439.0,417.6M424.4,426.0 428.0,422.4 430.0,421.0M439.0,417.6 448.0,421.0 452.0,426.0 452.4,434.0 451.0,442.0 449.0,449.0 444.0,457.0M414.0,430.0 417.0,437.0 423.0,444.0 426.0,449.0 429.0,454.0 433.0,456.0 444.0,457.0M392.4,433.0 392.4,455.0 387.6,455.6 387.6,490.0M392.4,433.0 406.0,431.0 409.0,433.0 414.0,430.0M433.0,456.0 428.0,461.0M444.0,457.0 446.0,466.0 447.0,474.0 448.0,479.0 450.0,484.0M442.0,479.0 445.0,477.0 447.6,480.0 447.0,485.0 444.0,486.4 441.6,483.0 442.0,479.0M484.0,370.0 485.0,376.0 487.0,384.0 489.0,390.0 490.0,398.0 491.0,406.0 490.0,414.0 486.0,421.0 480.0,427.0 474.0,433.0 468.0,438.0 462.0,441.0 461.0,447.0 463.0,452.0 465.0,458.0 464.0,466.0M462.0,392.0 470.0,391.0 478.0,390.0 484.0,388.0 489.0,387.0M432.0,376.0 433.2,374.0 434.0,372.4M440.0,370.0 441.6,372.0 443.0,374.0M448.0,371.0 449.6,372.0 451.0,373.0M435.2,389.0 437.2,388.4 437.6,390.4 435.6,391.0 435.2,389.0M360.0,460.0 361.0,470.0 364.0,480.0 368.0,488.0 372.0,495.0 374.0,502.0 377.0,510.0 379.0,515.0 377.0,520.0 379.0,526.0 381.0,529.0 387.0,531.0 394.0,529.0 400.0,527.0 408.0,526.0 416.0,526.0 422.0,523.6 428.0,520.0 434.0,514.0 440.0,507.0 444.0,501.0 448.0,494.0 450.4,487.0 451.0,480.0 455.0,475.0 461.0,470.0 464.0,465.0 465.0,460.0M372.0,495.0 377.0,493.0 383.0,496.0 387.6,494.0 387.6,460.0M387.6,472.0 390.0,479.0 393.0,483.0 398.0,481.0 402.0,475.0 409.0,474.0 416.0,475.0 419.0,470.0 424.0,465.0 428.0,460.0M423.0,500.0 426.0,496.0 431.0,495.0 434.0,499.0 432.0,503.0 428.0,506.0 424.0,505.0 423.0,500.0M496.0,330.0 491.0,336.0 487.0,343.0 484.0,350.0 482.0,357.0 483.0,364.0 485.0,370.0 487.0,378.0 489.0,387.0 490.0,396.0 490.0,406.0 491.0,412.0 489.0,418.0 485.0,423.0 480.0,426.0M480.0,390.0 489.0,387.0M510.0,420.0 518.0,417.0 523.0,414.0 525.0,409.0 528.0,404.0 531.0,399.0 533.6,394.4 537.0,400.0 539.0,408.0 540.0,414.0 538.0,419.0 537.4,421.0M523.0,414.4 525.6,410.0 528.4,405.0M510.0,420.0 507.5,430.0 508.8,440.0 505.0,450.0 503.8,460.0 507.5,470.0 513.8,476.2 521.2,473.8 525.0,465.0 528.8,452.5 532.5,440.0 535.5,427.5 537.0,420.0M573.0,443.8 575.0,442.5 576.2,445.0 574.0,446.5 573.0,443.8M563.5,448.8 565.5,448.0 566.5,450.5 564.5,451.8 563.5,448.8M145.0,93.0 147.5,93.6M151.0,91.0 153.0,91.5M159.0,97.0 162.5,97.5M392.1,96.1 396.2,94.1 400.2,93.7 404.3,95.7 406.7,94.9 408.3,97.3 406.7,99.8 405.1,102.2 404.3,105.4 403.0,107.8 401.8,105.0 400.2,106.2 399.0,103.8 397.0,102.2 395.4,99.8 392.9,98.1 392.1,96.1M207.5,215.0 207.0,220.0 205.5,224.5 204.5,228.0 203.0,231.5 200.5,235.0 203.0,236.5 205.0,240.0 204.5,243.5 204.0,247.0 204.5,249.5 206.0,252.5 207.5,255.0 210.0,256.5 212.5,258.0 215.0,261.0 218.0,264.0 220.5,267.0 222.0,271.0 223.0,275.0M205.5,224.5 210.0,223.8 215.0,223.5 218.5,225.5 221.5,229.0 224.5,232.5 227.0,235.0 228.5,231.5 230.5,230.0 233.0,232.5 235.0,231.0 241.0,230.0 261.0,230.5 260.5,225.0 259.5,215.0M227.0,235.0 227.5,239.0 229.5,244.0 230.5,248.0 231.5,250.0M204.0,247.0 209.0,247.5 215.0,247.5 219.5,248.0 225.0,249.0 229.5,249.5 231.5,250.0 234.0,251.5 237.0,249.5 241.0,248.5 243.5,250.0 244.5,254.0 246.0,257.0 247.5,260.5 249.5,262.0 252.5,261.0 255.5,259.5 258.5,261.5 260.5,260.5M219.5,248.0 219.0,252.0 216.5,253.5 213.5,254.5 211.5,256.0 210.0,256.5M260.5,260.5 261.0,253.0 264.0,250.0 266.5,245.0 269.5,242.5 273.0,240.5 275.0,238.5M220.5,267.0 224.0,264.5 228.0,263.5 231.5,265.0 233.5,268.0 235.0,271.0 236.0,274.0M246.0,257.0 246.5,262.0 247.0,267.0 248.0,271.0 249.5,274.0M265.0,224.0 267.0,223.0 269.0,222.5M268.5,227.5 266.8,228.2 266.5,230.0 267.2,231.5M514.0,149.4 521.0,148.5 526.0,143.0 529.5,142.0M521.0,148.5 525.0,149.0 528.0,150.5"/>
<g fill="#000" shape-rendering="crispEdges"><circle cx="198.0" cy="151.0" r="1.3"/><circle cx="199.0" cy="155.0" r="1.3"/><circle cx="197.6" cy="157.4" r="1.3"/><circle cx="202.4" cy="155.0" r="1.3"/><circle cx="205.0" cy="154.0" r="1.3"/><circle cx="209.6" cy="155.6" r="1.3"/><circle cx="267.0" cy="223.0" r="0.8"/><circle cx="267.0" cy="229.0" r="0.8"/><circle cx="294.0" cy="90.0" r="1.1"/><circle cx="308.4" cy="84.0" r="1.0"/><circle cx="202.4" cy="126.6" r="1.2"/><circle cx="205.6" cy="127.6" r="1.2"/><circle cx="259.0" cy="73.6" r="0.9"/><circle cx="258.0" cy="85.0" r="0.9"/><circle cx="262.0" cy="86.0" r="0.9"/><circle cx="274.0" cy="80.0" r="0.9"/><circle cx="275.0" cy="76.0" r="0.9"/><circle cx="272.0" cy="95.6" r="0.9"/><circle cx="271.0" cy="67.0" r="0.9"/><circle cx="288.0" cy="75.6" r="0.9"/><circle cx="359.4" cy="108.1" r="1.0"/><circle cx="347.5" cy="103.1" r="0.9"/><circle cx="366.9" cy="63.1" r="0.7"/><circle cx="368.8" cy="65.0" r="0.7"/><circle cx="371.2" cy="65.6" r="0.7"/><circle cx="417.5" cy="83.8" r="0.9"/><circle cx="420.0" cy="87.5" r="0.9"/><circle cx="421.9" cy="91.2" r="0.9"/><circle cx="416.2" cy="92.5" r="0.9"/><circle cx="418.8" cy="96.2" r="0.9"/><circle cx="422.5" cy="98.8" r="0.9"/><circle cx="415.0" cy="100.0" r="0.9"/><circle cx="420.0" cy="102.5" r="0.9"/><circle cx="425.0" cy="102.5" r="0.9"/><circle cx="426.2" cy="106.2" r="0.9"/><circle cx="423.1" cy="108.8" r="0.9"/><circle cx="412.5" cy="87.5" r="0.9"/><circle cx="411.2" cy="102.5" r="0.9"/><circle cx="415.0" cy="105.0" r="0.9"/><circle cx="408.1" cy="114.4" r="0.9"/><circle cx="413.8" cy="91.2" r="0.9"/><circle cx="417.5" cy="88.8" r="0.9"/><circle cx="421.2" cy="95.0" r="0.9"/><circle cx="417.5" cy="100.0" r="0.9"/><circle cx="423.8" cy="105.0" r="0.9"/><circle cx="441.9" cy="95.0" r="1.0"/><circle cx="444.4" cy="96.9" r="1.0"/><circle cx="412.5" cy="78.8" r="0.9"/><circle cx="415.0" cy="81.2" r="0.9"/><circle cx="411.9" cy="86.2" r="0.9"/><circle cx="414.4" cy="88.8" r="0.9"/><circle cx="418.8" cy="87.5" r="0.9"/><circle cx="417.5" cy="91.2" r="0.9"/><circle cx="420.0" cy="93.8" r="0.9"/><circle cx="413.8" cy="95.0" r="0.9"/><circle cx="416.2" cy="98.1" r="0.9"/><circle cx="421.2" cy="98.8" r="0.9"/><circle cx="412.5" cy="101.2" r="0.9"/><circle cx="417.5" cy="102.5" r="0.9"/><circle cx="422.5" cy="103.8" r="0.9"/><circle cx="426.5" cy="106.2" r="0.9"/><circle cx="415.0" cy="105.0" r="0.9"/><circle cx="422.5" cy="110.0" r="0.9"/><circle cx="341.9" cy="121.2" r="1.0"/><circle cx="359.4" cy="108.1" r="1.1"/><circle cx="347.5" cy="102.5" r="0.7"/><circle cx="440.6" cy="146.9" r="1.1"/><circle cx="520.0" cy="78.0" r="1.0"/><circle cx="514.0" cy="81.0" r="1.1"/><circle cx="548.0" cy="250.0" r="0.8"/><circle cx="551.0" cy="250.0" r="0.8"/><circle cx="497.0" cy="223.0" r="0.8"/><circle cx="488.0" cy="230.0" r="0.8"/><circle cx="467.0" cy="235.0" r="0.8"/><circle cx="460.0" cy="254.0" r="0.8"/><circle cx="567.6" cy="218.4" r="0.8"/><circle cx="567.4" cy="218.3" r="0.8"/><circle cx="331.0" cy="302.0" r="1.2"/><circle cx="321.0" cy="322.0" r="1.1"/><circle cx="324.4" cy="313.6" r="0.8"/><circle cx="315.6" cy="332.0" r="0.8"/><circle cx="338.0" cy="328.4" r="0.9"/><circle cx="477.0" cy="285.0" r="0.9"/><circle cx="475.0" cy="328.0" r="0.9"/><circle cx="462.0" cy="345.0" r="0.9"/><circle cx="466.0" cy="344.0" r="0.9"/><circle cx="468.0" cy="338.0" r="0.9"/><circle cx="484.0" cy="356.0" r="0.9"/><circle cx="485.0" cy="366.0" r="0.9"/><circle cx="419.0" cy="374.6" r="0.9"/><circle cx="548.0" cy="250.0" r="0.8"/><circle cx="552.0" cy="250.0" r="0.8"/><circle cx="543.0" cy="260.4" r="0.8"/><circle cx="419.0" cy="374.0" r="0.8"/><circle cx="422.0" cy="389.0" r="0.8"/><circle cx="429.0" cy="485.0" r="0.8"/><circle cx="417.0" cy="489.0" r="0.8"/><circle cx="450.0" cy="371.0" r="0.8"/><circle cx="417.0" cy="489.0" r="1.2"/><circle cx="429.0" cy="485.0" r="0.9"/><circle cx="411.0" cy="502.6" r="0.8"/><circle cx="415.6" cy="507.0" r="0.8"/><circle cx="484.8" cy="354.0" r="1.2"/><circle cx="486.0" cy="349.2" r="0.9"/><circle cx="485.4" cy="369.6" r="1.0"/><circle cx="484.0" cy="360.0" r="0.8"/><circle cx="538.4" cy="417.4" r="0.9"/><circle cx="503.6" cy="393.0" r="1.0"/><circle cx="506.0" cy="396.0" r="1.0"/><circle cx="509.6" cy="397.0" r="1.0"/><circle cx="513.0" cy="400.0" r="1.0"/><circle cx="519.0" cy="379.6" r="0.8"/><circle cx="564.0" cy="350.0" r="0.8"/><circle cx="566.0" cy="349.0" r="0.8"/><circle cx="568.4" cy="366.0" r="0.8"/><circle cx="569.6" cy="385.4" r="0.8"/><circle cx="604.0" cy="441.4" r="0.8"/><circle cx="604.2" cy="441.2" r="0.8"/><circle cx="162.0" cy="220.5" r="1.2"/><circle cx="166.2" cy="223.8" r="1.2"/><circle cx="173.0" cy="223.0" r="1.2"/><circle cx="173.8" cy="226.2" r="1.2"/><circle cx="165.0" cy="233.8" r="1.2"/><circle cx="168.8" cy="233.0" r="1.2"/><circle cx="172.0" cy="231.8" r="1.2"/><circle cx="216.0" cy="371.0" r="0.8"/><circle cx="259.0" cy="418.0" r="0.8"/><circle cx="226.0" cy="545.5" r="0.8"/><circle cx="651.0" cy="256.0" r="0.7"/><circle cx="647.5" cy="259.0" r="0.7"/><circle cx="652.5" cy="274.0" r="0.7"/><circle cx="653.0" cy="282.5" r="0.7"/><circle cx="654.0" cy="304.0" r="0.7"/><circle cx="654.0" cy="309.0" r="0.7"/><circle cx="649.5" cy="367.0" r="0.7"/><circle cx="403.4" cy="81.2" r="1.0"/><circle cx="405.9" cy="82.4" r="1.0"/><circle cx="407.9" cy="80.8" r="1.0"/><circle cx="404.3" cy="84.0" r="1.0"/><circle cx="407.1" cy="84.4" r="1.0"/><circle cx="401.8" cy="89.3" r="1.0"/><circle cx="404.3" cy="90.1" r="1.0"/><circle cx="406.7" cy="91.7" r="1.0"/><circle cx="409.1" cy="90.9" r="1.0"/><circle cx="408.7" cy="93.3" r="1.0"/><circle cx="404.3" cy="97.3" r="1.0"/><circle cx="405.9" cy="99.0" r="1.0"/><circle cx="401.4" cy="99.8" r="1.0"/><circle cx="399.4" cy="103.0" r="1.0"/><circle cx="396.6" cy="101.4" r="1.0"/><circle cx="412.3" cy="86.8" r="1.0"/><circle cx="413.1" cy="84.4" r="1.0"/><circle cx="414.8" cy="89.3" r="1.0"/><circle cx="418.0" cy="87.6" r="1.0"/><circle cx="420.4" cy="89.3" r="1.0"/><circle cx="419.2" cy="91.7" r="1.0"/><circle cx="418.0" cy="93.3" r="1.0"/><circle cx="421.2" cy="93.3" r="1.0"/><circle cx="420.4" cy="95.7" r="1.0"/><circle cx="418.0" cy="97.3" r="1.0"/><circle cx="412.3" cy="100.6" r="1.0"/><circle cx="414.0" cy="102.2" r="1.0"/><circle cx="415.6" cy="103.0" r="1.0"/><circle cx="417.2" cy="104.6" r="1.0"/><circle cx="411.1" cy="103.0" r="1.0"/><circle cx="414.8" cy="105.4" r="1.0"/><circle cx="423.7" cy="101.4" r="1.0"/><circle cx="425.3" cy="103.0" r="1.0"/><circle cx="426.9" cy="103.8" r="1.0"/><circle cx="426.1" cy="107.0" r="1.0"/><circle cx="422.8" cy="110.3" r="1.0"/><circle cx="424.1" cy="108.7" r="1.0"/><circle cx="428.5" cy="102.2" r="1.0"/></g>
<path fill="#000" stroke="#000" stroke-width="0.6" shape-rendering="crispEdges" d="M499.4,91.9 502.5,90.0 505.6,90.6 503.1,93.1 500.0,93.8 499.4,91.9ZM453.5,89.1 455.2,88.8 455.8,91.2 454.6,92.9 453.5,91.2 453.5,89.1ZM502.5,117.9 504.0,117.2 504.6,120.0 503.5,121.5 502.5,118.1ZM504.1,125.4 505.9,125.1 506.1,127.5 504.6,127.8 504.1,125.4ZM625.6,75.8 629.4,76.6 629.0,78.0 626.0,77.2ZM635.6,80.6 639.4,81.0 639.0,82.4 636.0,82.0ZM204.5,243.5 208.0,241.8 211.5,240.8 215.0,241.6 218.8,242.8 217.8,244.6 214.0,244.0 211.0,243.2 208.0,244.2 205.0,245.0ZM205.0,249.5 209.0,249.0 212.5,250.0 213.0,252.5 211.0,254.0 210.0,256.2 207.5,256.8 205.5,254.5 206.2,252.2 204.8,251.0Z"/>
</g>
<rect x="137.6" y="54.7" width="525.1999999999999" height="508.09999999999997" fill="none" stroke="#000" stroke-width="1.7"/>
<g style="filter:grayscale(1)">
<text class="ax" x="130.5" y="567.3" text-anchor="end">40S</text>
<text class="ax" x="130.5" y="507.4" text-anchor="end">30S</text>
<text class="ax" x="130.5" y="447.6" text-anchor="end">20S</text>
<text class="ax" x="130.5" y="387.7" text-anchor="end">10S</text>
<text class="ax" x="130.5" y="327.8" text-anchor="end" textLength="14.5" lengthAdjust="spacingAndGlyphs">EQ</text>
<text class="ax" x="130.5" y="267.9" text-anchor="end">10N</text>
<text class="ax" x="130.5" y="208.0" text-anchor="end">20N</text>
<text class="ax" x="130.5" y="148.2" text-anchor="end">30N</text>
<text class="ax" x="130.5" y="88.3" text-anchor="end">40N</text>
<text class="ax" x="138.0" y="577.3" text-anchor="middle">30W</text>
<text class="ax" x="187.9" y="577.3" text-anchor="middle">20W</text>
<text class="ax" x="237.9" y="577.3" text-anchor="middle">10W</text>
<text class="ax" x="287.9" y="577.3" text-anchor="middle">0</text>
<text class="ax" x="337.8" y="577.3" text-anchor="middle">10E</text>
<text class="ax" x="387.8" y="577.3" text-anchor="middle">20E</text>
<text class="ax" x="437.7" y="577.3" text-anchor="middle">30E</text>
<text class="ax" x="487.7" y="577.3" text-anchor="middle">40E</text>
<text class="ax" x="537.6" y="577.3" text-anchor="middle">50E</text>
<text class="ax" x="587.5" y="577.3" text-anchor="middle">60E</text>
<text class="ax" x="637.5" y="577.3" text-anchor="middle">70E</text>
<path d="M133.6,562.7H137.6M133.6,502.8H137.6M133.6,442.9H137.6M133.6,383.1H137.6M133.6,323.2H137.6M133.6,263.3H137.6M133.6,203.4H137.6M133.6,143.6H137.6M133.6,83.7H137.6M137.5,562.8V567M187.4,562.8V567M237.4,562.8V567M287.4,562.8V567M337.3,562.8V567M387.2,562.8V567M437.2,562.8V567M487.2,562.8V567M537.1,562.8V567M587.0,562.8V567M637.0,562.8V567" stroke="#000" stroke-width="1.2" fill="none"/>
</g>
<rect x="724" y="87.25" width="14.200000000000045" height="26.06" fill="#321ea5" stroke="#000" stroke-width="1.5"/>
<rect x="724" y="113.31" width="14.200000000000045" height="26.06" fill="#3c28b9" stroke="#000" stroke-width="1.5"/>
<rect x="724" y="139.37" width="14.200000000000045" height="26.06" fill="#463cc8" stroke="#000" stroke-width="1.5"/>
<rect x="724" y="165.43" width="14.200000000000045" height="26.06" fill="#6e5fdc" stroke="#000" stroke-width="1.5"/>
<rect x="724" y="191.49" width="14.200000000000045" height="26.06" fill="#8273eb" stroke="#000" stroke-width="1.5"/>
<rect x="724" y="217.54" width="14.200000000000045" height="26.06" fill="#a08cff" stroke="#000" stroke-width="1.5"/>
<rect x="724" y="243.60" width="14.200000000000045" height="26.06" fill="#beb4ff" stroke="#000" stroke-width="1.5"/>
<rect x="724" y="269.66" width="14.200000000000045" height="26.06" fill="#dcdcff" stroke="#000" stroke-width="1.5"/>
<rect x="724" y="295.72" width="14.200000000000045" height="26.06" fill="#ffffff" stroke="#000" stroke-width="1.5"/>
<rect x="724" y="321.78" width="14.200000000000045" height="26.06" fill="#ffe1e1" stroke="#000" stroke-width="1.5"/>
<rect x="724" y="347.84" width="14.200000000000045" height="26.06" fill="#ffc8c8" stroke="#000" stroke-width="1.5"/>
<rect x="724" y="373.90" width="14.200000000000045" height="26.06" fill="#faa0a0" stroke="#000" stroke-width="1.5"/>
<rect x="724" y="399.96" width="14.200000000000045" height="26.06" fill="#eb8c91" stroke="#000" stroke-width="1.5"/>
<rect x="724" y="426.01" width="14.200000000000045" height="26.06" fill="#e66e6e" stroke="#000" stroke-width="1.5"/>
<rect x="724" y="452.07" width="14.200000000000045" height="26.06" fill="#e65050" stroke="#000" stroke-width="1.5"/>
<rect x="724" y="478.13" width="14.200000000000045" height="26.06" fill="#cd3c3c" stroke="#000" stroke-width="1.5"/>
<rect x="724" y="504.19" width="14.200000000000045" height="26.06" fill="#b42828" stroke="#000" stroke-width="1.5"/>
<path d="M724,87.25 L731.1,63.0 L738.2,87.25 Z" fill="#280aa0" stroke="#000" stroke-width="1.3" stroke-linejoin="miter"/>
<path d="M724,530.25 L731.1,556.2 L738.2,530.25 Z" fill="#aa1e23" stroke="#000" stroke-width="1.3" stroke-linejoin="miter"/>
<g style="filter:grayscale(1)">
<text class="cb" x="743" y="92.2" textLength="36" lengthAdjust="spacingAndGlyphs">4500</text>
<text class="cb" x="743" y="118.2" textLength="36" lengthAdjust="spacingAndGlyphs">4470</text>
<text class="cb" x="743" y="144.3" textLength="36" lengthAdjust="spacingAndGlyphs">4440</text>
<text class="cb" x="743" y="170.3" textLength="36" lengthAdjust="spacingAndGlyphs">4410</text>
<text class="cb" x="743" y="196.4" textLength="36" lengthAdjust="spacingAndGlyphs">4380</text>
<text class="cb" x="743" y="222.4" textLength="36" lengthAdjust="spacingAndGlyphs">4350</text>
<text class="cb" x="743" y="248.5" textLength="36" lengthAdjust="spacingAndGlyphs">4320</text>
<text class="cb" x="743" y="274.6" textLength="36" lengthAdjust="spacingAndGlyphs">4290</text>
<text class="cb" x="743" y="300.6" textLength="36" lengthAdjust="spacingAndGlyphs">4260</text>
<text class="cb" x="743" y="326.7" textLength="36" lengthAdjust="spacingAndGlyphs">4230</text>
<text class="cb" x="743" y="352.7" textLength="36" lengthAdjust="spacingAndGlyphs">4200</text>
<text class="cb" x="743" y="378.8" textLength="36" lengthAdjust="spacingAndGlyphs">4180</text>
<text class="cb" x="743" y="404.9" textLength="36" lengthAdjust="spacingAndGlyphs">4170</text>
<text class="cb" x="743" y="430.9" textLength="36" lengthAdjust="spacingAndGlyphs">4160</text>
<text class="cb" x="743" y="457.0" textLength="36" lengthAdjust="spacingAndGlyphs">4150</text>
<text class="cb" x="743" y="483.0" textLength="36" lengthAdjust="spacingAndGlyphs">4140</text>
<text class="cb" x="743" y="509.1" textLength="36" lengthAdjust="spacingAndGlyphs">4130</text>
<text class="cb" x="743" y="535.1" textLength="36" lengthAdjust="spacingAndGlyphs">4120</text>
<text class="gr" x="4" y="614.8" textLength="103.5" lengthAdjust="spacingAndGlyphs">GrADS: IGES/COLA</text>
</g>
</svg></body></html>
